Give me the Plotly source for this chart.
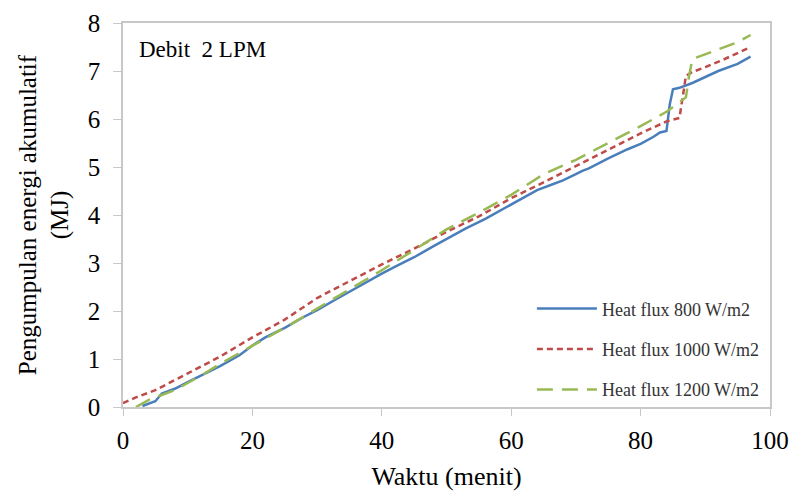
import plotly.graph_objects as go

# Data
t_800 = [3, 5, 6, 8, 10, 12, 15, 18, 20, 22, 25, 28, 30, 33, 36, 40, 42, 45, 48, 50, 53, 56, 60, 62, 64, 66, 68, 70, 71, 72, 75, 78, 80, 82, 83, 84, 84.5, 85, 86, 88, 90, 92, 95, 97]
e_800 = [0.02, 0.12, 0.28, 0.38, 0.52, 0.65, 0.85, 1.08, 1.28, 1.45, 1.65, 1.88, 2.02, 2.25, 2.48, 2.78, 2.92, 3.12, 3.35, 3.5, 3.72, 3.92, 4.22, 4.38, 4.52, 4.62, 4.72, 4.85, 4.92, 4.97, 5.18, 5.37, 5.48, 5.63, 5.72, 5.75, 6.3, 6.62, 6.65, 6.75, 6.88, 7.0, 7.15, 7.3]

t_1000 = [0, 2, 5, 8, 10, 15, 20, 25, 30, 35, 40, 45, 50, 55, 60, 65, 70, 75, 80, 84, 86, 86.5, 87, 88, 90, 93, 97]
e_1000 = [0.08, 0.2, 0.35, 0.55, 0.7, 1.05, 1.45, 1.82, 2.27, 2.62, 2.97, 3.3, 3.65, 3.97, 4.35, 4.68, 5.02, 5.35, 5.7, 5.95, 6.02, 6.45, 6.9, 6.98, 7.08, 7.25, 7.5]

t_1200 = [2, 4, 6, 8, 10, 12, 15, 20, 25, 30, 35, 40, 45, 50, 55, 60, 65, 70, 75, 80, 84, 86, 87, 87.5, 88, 89, 90, 92, 95, 97]
e_1200 = [0.0, 0.15, 0.25, 0.35, 0.5, 0.65, 0.9, 1.28, 1.65, 2.05, 2.45, 2.85, 3.27, 3.7, 4.05, 4.42, 4.85, 5.15, 5.5, 5.85, 6.15, 6.35, 6.45, 6.9, 7.25, 7.3, 7.35, 7.45, 7.6, 7.75]

names = ["Heat flux 800 W/m2", "Heat flux 1000 W/m2", "Heat flux 1200 W/m2"]
x_ticks = [0, 20, 40, 60, 80, 100]
y_ticks = [0, 1, 2, 3, 4, 5, 6, 7, 8]

FONT = "Liberation Serif"

fig = go.Figure()
fig.add_trace(go.Scatter(x=t_800, y=e_800, mode="lines", name=names[0], legendgroup="a",
                         line=dict(color="#4a7ebb", width=2.5)))
fig.add_trace(go.Scatter(x=t_1000, y=e_1000, mode="lines", name=names[1], legendgroup="b",
                         line=dict(color="#be4b48", width=2.5, dash="6px,4px")))
fig.add_trace(go.Scatter(x=t_1200, y=e_1200, mode="lines", name=names[2], legendgroup="c",
                         line=dict(color="#98b954", width=2.5, dash="16px,9px")))

fig.add_annotation(text="Debit  2 LPM", x=0.022, y=0.97, xref="paper", yref="paper",
                   xanchor="left", yanchor="top", showarrow=False,
                   font=dict(family=FONT, size=23, color="#000"))

fig.update_layout(
    width=797, height=493,
    margin=dict(l=115, r=35, t=15, b=94),
    paper_bgcolor="white", plot_bgcolor="white",
    font=dict(family=FONT, color="#000"),
    legend=dict(x=0.632, y=0.15, xanchor="left", yanchor="middle",
                font=dict(family=FONT, size=18, color="#333"),
                bgcolor="rgba(0,0,0,0)", traceorder="grouped", tracegroupgap=14,
                itemwidth=60),
    xaxis=dict(range=[0, 100], tickvals=x_ticks, ticks="outside", ticklen=7,
               tickcolor="#c8c8c8", showline=True, linecolor="#c8c8c8", linewidth=1.5,
               mirror=True, showgrid=False, zeroline=False, automargin=False,
               tickfont=dict(family=FONT, size=25), ticklabelstandoff=3,
               ticklabeloverflow="allow",
               title=dict(text="Waktu (menit)", font=dict(family=FONT, size=26), standoff=14)),
    yaxis=dict(range=[0, 8], tickvals=y_ticks, ticks="outside", ticklen=8,
               tickcolor="#c8c8c8", showline=True, linecolor="#c8c8c8", linewidth=1.5,
               mirror=True, showgrid=False, zeroline=False, automargin=False,
               tickfont=dict(family=FONT, size=25), ticklabelstandoff=8,
               ticklabeloverflow="allow",
               title=dict(text="Pengumpulan energi akumulatif<br>(MJ)",
                          font=dict(family=FONT, size=25), standoff=12)),
)

fig.write_html("out.html")
